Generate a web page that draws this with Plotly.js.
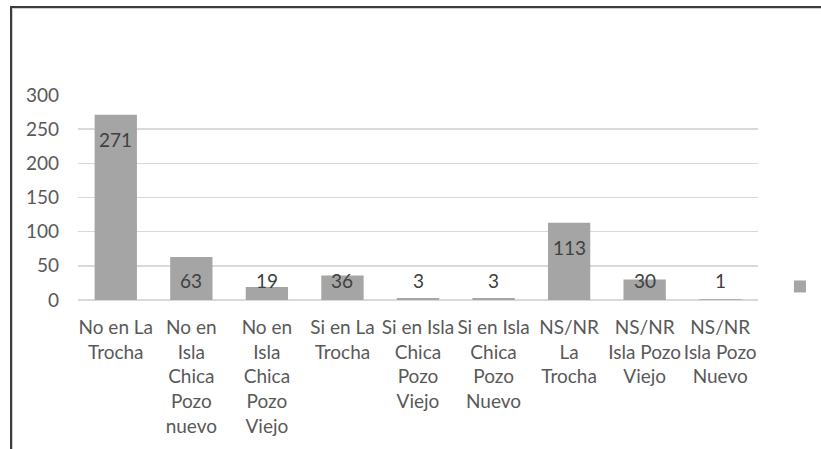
<!DOCTYPE html>
<html>
<head>
<meta charset="utf-8">
<script src="https://cdn.plot.ly/plotly-3.0.1.min.js"></script>
<style>
html,body{margin:0;padding:0;overflow:hidden;background:#fff;}
#chart{position:absolute;left:0;top:0;width:821px;height:449px;}
#frame{position:absolute;left:10px;top:6px;width:900px;height:600px;border-left:2px solid #3c3c3c;border-top:2px solid #3c3c3c;pointer-events:none;box-shadow:inset 1px 1px 0 #d0d0d0;}
</style>
</head>
<body>
<div id="chart"></div>
<div id="frame"></div>
<script>
const categories = ["No en La Trocha","No en Isla Chica Pozo nuevo","No en Isla Chica Pozo Viejo","Si en La Trocha","Si en Isla Chica Pozo Viejo","Si en Isla Chica Pozo Nuevo","NS/NR La Trocha","NS/NR Isla Pozo Viejo","NS/NR Isla Pozo Nuevo"];
const tickLabels = ["No en La<br>Trocha","No en<br>Isla<br>Chica<br>Pozo<br>nuevo","No en<br>Isla<br>Chica<br>Pozo<br>Viejo","Si en La<br>Trocha","Si en Isla<br>Chica<br>Pozo<br>Viejo","Si en Isla<br>Chica<br>Pozo<br>Nuevo","NS/NR<br>La<br>Trocha","NS/NR<br>Isla Pozo<br>Viejo","NS/NR<br>Isla Pozo<br>Nuevo"];
const values = [271,63,19,36,3,3,113,30,1];
const yTicks = [0,50,100,150,200,250,300];

const FONT = "Lato, 'Open Sans', sans-serif";
const annotations = values.map((v,i)=>{
  const inside = v > 65;
  return {
    x: categories[i], y: inside ? v : 0, xref:'x', yref:'y',
    text: String(v), showarrow:false,
    yshift: inside ? -25 : 20,
    font:{family:FONT,size:19,color:'#404040'}
  };
});

const trace = {
  type:'bar', x:categories, y:values, name:' ',
  marker:{color:'#a5a5a5'},
  showlegend:true, hoverinfo:'none'
};

const layout = {
  width:821, height:449,
  margin:{l:78,r:63,t:94.5,b:148.5,pad:0,autoexpand:false},
  paper_bgcolor:'#ffffff', plot_bgcolor:'#ffffff',
  bargap:0.44,
  font:{family:FONT,size:19,color:'#595959'},
  xaxis:{
    type:'category', tickmode:'array', tickvals:categories, ticktext:tickLabels,
    tickangle:0, automargin:false, ticklabelstandoff:14,
    showgrid:false, showline:false, zeroline:false, ticks:'',
    tickfont:{family:FONT,size:19,color:'#595959'}, fixedrange:true
  },
  yaxis:{
    range:[0,300], tickmode:'array', tickvals:yTicks, automargin:false,
    showgrid:true, gridcolor:'#d9d9d9', gridwidth:1.5,
    zeroline:true, zerolinecolor:'#d9d9d9', zerolinewidth:1.5,
    showline:false, ticks:'', ticklabelstandoff:18,
    tickfont:{family:FONT,size:19,color:'#595959'}, fixedrange:true
  },
  showlegend:true,
  legend:{xref:'container', yref:'container', x:0.950, xanchor:'left', y:0.362, yanchor:'middle', bgcolor:'rgba(0,0,0,0)', font:{size:12}},
  annotations: annotations
};

Plotly.newPlot('chart',[trace],layout,{displayModeBar:false,staticPlot:true});
</script>
</body>
</html>
